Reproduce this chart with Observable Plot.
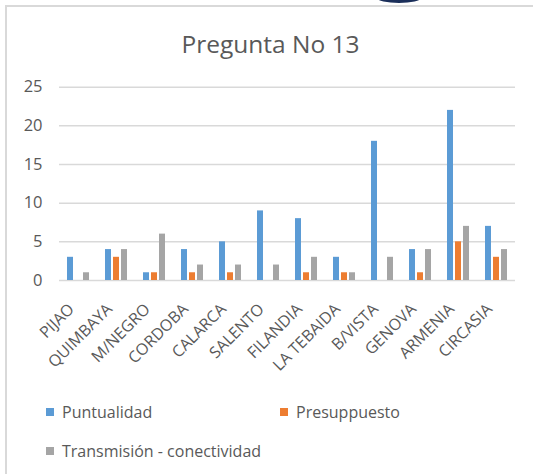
<!DOCTYPE html>
<html>
<head>
<meta charset="utf-8">
<script src="https://cdn.jsdelivr.net/npm/d3@7"></script>
<script src="https://cdn.jsdelivr.net/npm/@observablehq/plot@0.6"></script>
<style>
  html, body { margin: 0; padding: 0; background: #fff; }
  body { width: 533px; height: 474px; position: relative; overflow: hidden; font-family: "Open Sans", sans-serif; color: #595959; }
  #frame { position: absolute; left: 5px; top: 5px; width: 540px; height: 480px; border-left: 2px solid #d9d9d9; border-top: 2px solid #d9d9d9; }
  #logo { position: absolute; left: 377px; top: -7.5px; width: 44px; height: 10px; background: #1b2f5a; border-radius: 50%; }
  #title { position: absolute; left: 4px; width: 533px; top: 28.8px; text-align: center; font-size: 24.5px; line-height: 30px; }
  #chart { position: absolute; left: 0; top: 60px; }
  .leg { position: absolute; font-size: 16px; line-height: 20px; white-space: nowrap; }
  .sw { position: absolute; width: 8px; height: 8px; }
</style>
</head>
<body>
<div id="frame"></div>
<div id="logo"></div>
<div id="title">Pregunta No 13</div>
<div id="chart"></div>
<div id="legend"></div>
<script>
const cities = ["PIJAO","QUIMBAYA","M/NEGRO","CORDOBA","CALARCA","SALENTO","FILANDIA","LA TEBAIDA","B/VISTA","GENOVA","ARMENIA","CIRCASIA"];
const puntualidad = [3,4,1,4,5,9,8,3,18,4,22,7];
const presupuesto = [0,3,1,1,1,0,1,1,0,1,5,3];
const transmision = [1,4,6,2,2,2,3,1,3,4,7,4];
const seriesNames = ["Puntualidad","Presuppuesto","Transmisión - conectividad"];
const seriesColors = ["#5B9BD5","#ED7D31","#A5A5A5"];
const yTicks = [0,5,10,15,20,25];

const seriesValues = [puntualidad, presupuesto, transmision];
const rows = [];
cities.forEach((c, i) => {
  seriesNames.forEach((s, j) => rows.push({city: c, series: s, value: seriesValues[j][i]}));
});

const hasAxisMarks = typeof Plot.axisY === "function";
const marks = [
  Plot.ruleY(yTicks, {stroke: "#d9d9d9", strokeWidth: 1.5}),
  Plot.barY(rows, {fx: "city", x: "series", y: "value", fill: "series"}),
  Plot.text(cities, {
    fx: d => d, text: d => d, frameAnchor: "bottom",
    rotate: -45, textAnchor: "end", lineAnchor: "middle",
    dx: -7, dy: 26, fontSize: 16, fill: "#595959"
  })
];
if (hasAxisMarks) {
  marks.push(Plot.axisY({ticks: yTicks, tickSize: 0, tickPadding: 17, label: null, fontSize: 16.5}));
}

const chart = Plot.plot({
  width: 533,
  height: 330,
  marginTop: 26.7,
  marginBottom: 110,
  marginLeft: 58,
  marginRight: 18,
  style: {fontFamily: "Open Sans, sans-serif", fontSize: "16px", color: "#595959", background: "transparent", overflow: "visible"},
  fx: {domain: cities, padding: 0, axis: null, label: null},
  x: {domain: seriesNames, axis: null, paddingInner: 0.2, paddingOuter: 0.84},
  y: hasAxisMarks
    ? {domain: [0, 25], label: null}
    : {domain: [0, 25], ticks: 5, tickSize: 0, tickPadding: 17, label: null},
  color: {domain: seriesNames, range: seriesColors},
  marks
});
document.getElementById("chart").appendChild(chart);

const legend = document.getElementById("legend");
const legPos = [{x: 46, y: 402}, {x: 280, y: 402}, {x: 46, y: 441}];
seriesNames.forEach((s, i) => {
  const sw = document.createElement("div");
  sw.className = "sw";
  sw.style.left = legPos[i].x + "px";
  sw.style.top = (legPos[i].y + 6) + "px";
  sw.style.background = seriesColors[i];
  legend.appendChild(sw);
  const t = document.createElement("div");
  t.className = "leg";
  t.style.left = (legPos[i].x + 16) + "px";
  t.style.top = legPos[i].y + "px";
  t.textContent = s;
  legend.appendChild(t);
});
</script>
</body>
</html>
